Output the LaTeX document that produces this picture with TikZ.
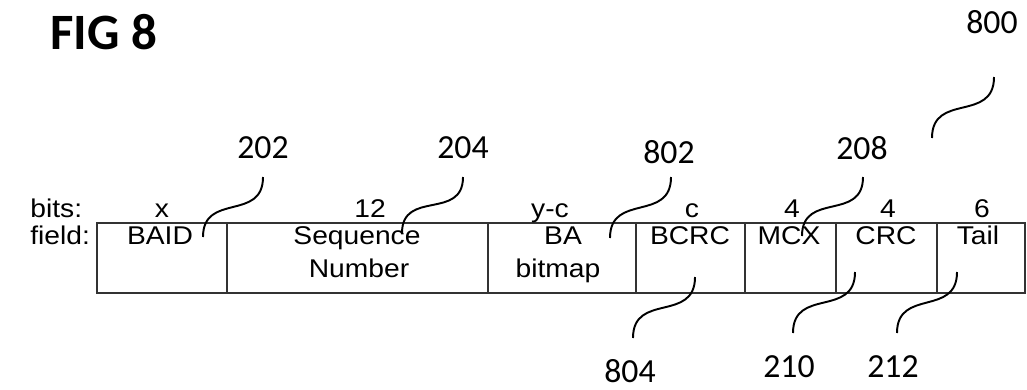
\documentclass[tikz,border=0pt]{standalone}
\usepackage{fontspec}
\setmainfont{Liberation Sans}
\newfontfamily\labfont{Carlito}
\newfontfamily\boxfont[FakeStretch=1.1]{Liberation Sans}

\tikzset{
 reflabel/.style={font=\labfont\fontsize{19.2}{21}\selectfont, inner sep=0pt},
 fieldtext/.style={font=\boxfont\fontsize{14.6}{17}\selectfont, inner sep=0pt, anchor=base},
 leader/.style={line width=1.1pt, out=-90, in=90, looseness=1.35},
 cellline/.style={line width=0.6pt, black!80},
}

\begin{document}
\begin{tikzpicture}[x=0.02cm,y=-0.02cm]
 \useasboundingbox (0,0) rectangle (1027,389);

 \node[font=\labfont\bfseries\fontsize{29}{32}\selectfont, inner sep=0pt] (fig) at (104,32) {FIG 8};

 %frame and fields
 \draw[cellline] (97,223) rectangle (1025,293);
 \foreach \x in {227,488,636,745,836,937}
  \draw[cellline] (\x,223) -- (\x,293);

 %row titles
 \node[fieldtext, anchor=base west] (bits) at (30,217) {bits:};
 \node[fieldtext, anchor=base west] (field) at (30,244) {field:};

 %bit counts
 \node[fieldtext] (nbaid) at (162,217) {x};
 \node[fieldtext] (nseq) at (370,217) {12};
 \node[fieldtext] (nbitmap) at (550,217) {y-c};
 \node[fieldtext] (nbcrc) at (692,217) {c};
 \node[fieldtext] (nmcx) at (792,217) {4};
 \node[fieldtext] (ncrc) at (888,217) {4};
 \node[fieldtext] (ntail) at (982,217) {6};

 %field names
 \node[fieldtext] (baid) at (160,244) {BAID};
 \node[fieldtext] (seq) at (357,244) {Sequence};
 \node[fieldtext] (seqb) at (359,277) {Number};
 \node[fieldtext] (bitmap) at (563,244) {BA};
 \node[fieldtext] (bitmapb) at (558,277) {bitmap};
 \node[fieldtext] (bcrc) at (690,244) {BCRC};
 \node[fieldtext] (mcx) at (789,244) {MCX};
 \node[fieldtext] (crc) at (886,244) {CRC};
 \node[fieldtext] (tail) at (978,244) {Tail};

 %reference numerals
 \node[reflabel] (r800) at (992,22) {800};
 \node[reflabel] (r202) at (263,148) {202};
 \node[reflabel] (r204) at (463,148) {204};
 \node[reflabel] (r802) at (669,152) {802};
 \node[reflabel] (r208) at (862,148) {208};
 \node[reflabel] (r804) at (630,371) {804};
 \node[reflabel] (r210) at (789,367) {210};
 \node[reflabel] (r212) at (893,367) {212};

 %leader ends
 \coordinate (a800) at (994,77);  \coordinate (b800) at (932,138);
 \coordinate (a202) at (263,177); \coordinate (b202) at (203,237);
 \coordinate (a204) at (463,177); \coordinate (b204) at (402,233);
 \coordinate (a802) at (671,177); \coordinate (b802) at (610,238);
 \coordinate (a208) at (863,177); \coordinate (b208) at (802,236);
 \coordinate (a804) at (695,277); \coordinate (b804) at (633,338);
 \coordinate (a210) at (855,272); \coordinate (b210) at (793,333);
 \coordinate (a212) at (957,272); \coordinate (b212) at (897,333);

 \foreach \n in {800,202,204,802,208,804,210,212}
  \draw[leader] (a\n) to (b\n);
\end{tikzpicture}
\end{document}
